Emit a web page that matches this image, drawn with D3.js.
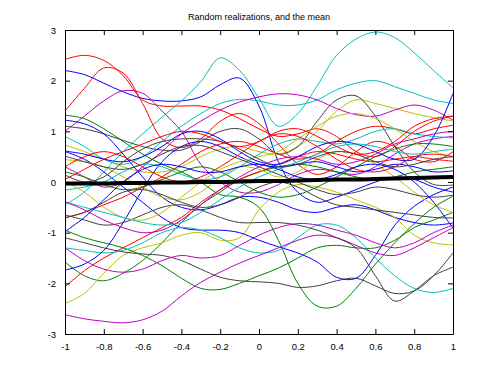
<!DOCTYPE html>
<meta charset="utf-8">
<script src="https://d3js.org/d3.v7.min.js"></script>
<style>
  body { margin: 0; background: #fff; }
  text { font-family: "Liberation Sans", Arial, sans-serif; }
</style>
<div id="vis"></div>
<script>

// x sample points shared by every realization
var xGrid = [-1, -0.9, -0.8, -0.7, -0.6, -0.5, -0.4, -0.3, -0.2, -0.1, 0,
             0.1, 0.2, 0.3, 0.4, 0.5, 0.6, 0.7, 0.8, 0.9, 1];

var xTicks = [-1, -0.8, -0.6, -0.4, -0.2, 0, 0.2, 0.4, 0.6, 0.8, 1];
var yTicks = [-3, -2, -1, 0, 1, 2, 3];

// realizations
var cyanBig   = [-0.45,-0.2,0.2,0.6,0.95,1.28,1.6,1.98,2.45,2.2,1.65,1.1,1.35,1.9,2.5,2.82,2.96,2.85,2.55,2.2,1.86];
var blueHigh  = [2.2,2.12,1.95,1.78,1.65,1.6,1.6,1.68,1.92,2.05,1.5,0.4,-0.2,-0.4,-0.3,-0.15,0.0,0.1,0.05,-0.1,-0.2];
var redTop    = [2.42,2.5,2.4,2.1,1.62,1.5,1.5,1.5,1.42,1.25,1.05,0.9,0.95,1.05,0.9,0.6,0.5,0.7,1.0,1.2,1.3];
var redPeak   = [1.4,1.85,2.25,2.15,1.55,0.85,0.68,0.85,1.2,1.35,1.15,0.75,0.35,0.15,0.3,0.6,0.8,0.7,0.45,0.4,0.6];
var magHump   = [1.0,1.3,1.6,1.8,1.75,1.4,1.0,0.35,0.0,-0.2,-0.2,-0.05,0.15,0.25,0.2,0.15,0.3,0.55,0.75,0.85,0.9];
var magMid    = [0.3,0.1,-0.1,0.0,0.3,0.6,0.95,1.2,1.42,1.58,1.68,1.74,1.72,1.62,1.45,1.33,1.3,1.42,1.52,1.42,1.22];
var cyanMid   = [0.9,0.7,0.45,0.35,0.5,0.8,1.1,1.35,1.55,1.63,1.6,1.52,1.52,1.62,1.82,1.95,2.0,1.88,1.75,1.62,1.55];
var grayPeak  = [1.1,1.05,0.95,0.82,0.7,0.63,0.63,0.8,1.0,1.05,0.85,0.55,0.7,1.2,1.62,1.7,1.3,0.7,0.2,-0.05,-0.06];
var yelRise   = [0.73,0.6,0.45,0.3,0.2,0.2,0.3,0.5,0.65,0.7,0.6,0.55,0.7,1.0,1.4,1.62,1.55,1.45,1.35,1.27,1.2];
var yelLow    = [-2.4,-2.2,-1.8,-1.45,-1.3,-1.2,-1.05,-1.0,-1.15,-1.1,-0.55,-0.2,-0.05,-0.1,-0.2,-0.35,-0.5,-0.7,-1.05,-1.2,-1.24];
var magBottom = [-2.62,-2.7,-2.75,-2.78,-2.72,-2.55,-2.25,-1.98,-1.78,-1.6,-1.45,-1.3,-1.15,-1.05,-1.1,-1.25,-1.4,-1.45,-1.3,-1.1,-0.9];
var grayLow   = [-1.1,-1.2,-1.3,-1.38,-1.42,-1.45,-1.55,-1.72,-1.88,-1.95,-1.97,-2.0,-2.08,-2.05,-1.95,-1.9,-2.05,-2.2,-2.15,-1.85,-1.4];
var grayDip   = [-0.65,-0.75,-0.85,-0.8,-0.65,-0.5,-0.45,-0.55,-0.7,-0.8,-0.8,-0.8,-0.85,-0.95,-1.1,-1.3,-1.85,-2.35,-2.15,-1.85,-1.68];
var greenDip  = [1.32,1.25,1.05,0.8,0.55,0.35,0.2,0.0,-0.25,-0.3,-0.5,-1.15,-2.0,-2.45,-2.45,-2.1,-1.62,-1.2,-0.82,-0.5,-0.28];
var cyanLow   = [-1.3,-1.35,-1.4,-1.35,-1.2,-1.0,-0.9,-0.95,-1.1,-1.3,-1.4,-1.35,-1.1,-0.85,-0.85,-1.1,-1.5,-1.85,-2.1,-2.18,-2.1];
var blueDip   = [0.6,0.45,0.2,-0.1,-0.4,-0.7,-0.9,-0.95,-0.95,-1.0,-1.15,-1.28,-1.4,-1.58,-1.88,-1.9,-1.45,-0.85,-0.48,-0.25,-0.1];
var blueSteep = [-1.74,-1.62,-1.35,-0.8,-0.15,0.4,0.7,0.8,0.7,0.5,0.35,0.3,0.35,0.4,0.3,0.2,0.25,0.35,0.3,0.2,0.22];
var redLow    = [-2.07,-1.75,-1.5,-1.3,-1.1,-0.9,-0.7,-0.4,-0.15,0.05,0.2,0.35,0.5,0.6,0.55,0.45,0.4,0.45,0.5,0.45,0.41];
var greenLow  = [-1.58,-1.85,-1.95,-1.8,-1.55,-1.2,-0.8,-0.45,-0.2,0.05,0.2,0.3,0.35,0.3,0.2,0.1,0.05,0.1,0.2,0.25,0.3];
var greenV    = [-0.95,-1.1,-1.2,-1.3,-1.45,-1.65,-1.9,-2.1,-2.12,-2.0,-1.85,-1.7,-1.5,-1.3,-1.25,-1.3,-1.3,-1.15,-0.9,-0.75,-0.6];
var magLow    = [-1.3,-1.55,-1.72,-1.78,-1.72,-1.55,-1.45,-1.5,-1.45,-1.25,-1.05,-0.9,-0.82,-0.85,-0.95,-1.05,-1.2,-1.3,-1.2,-1.0,-0.85];
var blueFall  = [1.22,1.15,0.95,0.55,0.1,-0.3,-0.5,-0.55,-0.45,-0.3,-0.3,-0.4,-0.55,-0.6,-0.5,-0.45,-0.55,-0.7,-0.8,-0.85,-0.81];
var blueMid   = [0.61,0.55,0.45,0.4,0.5,0.7,0.95,1.0,0.85,0.6,0.4,0.35,0.5,0.7,0.8,0.75,0.6,0.45,0.45,0.9,1.75];
var grayMid   = [0.51,0.4,0.3,0.25,0.35,0.55,0.7,0.72,0.6,0.45,0.3,0.15,0.0,-0.15,-0.25,-0.2,-0.1,-0.15,-0.25,-0.3,-0.26];
var yelWave   = [0.44,0.4,0.3,0.1,-0.1,-0.3,-0.35,-0.2,0.1,0.3,0.25,0.1,0.2,0.45,0.6,0.55,0.35,0.1,-0.2,-0.45,-0.6];
var cyanWave  = [-0.16,-0.1,0.0,0.2,0.35,0.3,0.15,0.05,0.1,0.3,0.55,0.75,0.85,0.8,0.75,0.85,1.0,1.05,0.95,0.9,0.87];
var cyanRise  = [-0.39,-0.5,-0.6,-0.7,-0.8,-0.85,-0.8,-0.6,-0.35,-0.1,0.1,0.25,0.4,0.55,0.7,0.75,0.7,0.6,0.55,0.6,0.65];
var magRise   = [-0.39,-0.55,-0.75,-0.9,-1.0,-0.95,-0.75,-0.45,-0.15,0.1,0.3,0.45,0.5,0.45,0.35,0.4,0.55,0.75,0.85,0.95,1.0];
var redRise   = [-0.71,-0.6,-0.45,-0.3,-0.1,0.1,0.35,0.6,0.75,0.8,0.7,0.55,0.45,0.55,0.8,1.0,1.1,1.05,0.95,1.05,1.12];
var blueWave  = [-0.98,-0.7,-0.35,0.0,0.25,0.35,0.3,0.2,0.2,0.3,0.35,0.25,0.1,0.05,0.15,0.3,0.35,0.25,0.0,-0.4,-0.91];
var grayRise  = [0.14,0.0,0.1,0.4,0.65,0.8,0.85,0.85,0.8,0.65,0.45,0.3,0.35,0.5,0.6,0.55,0.4,0.3,0.35,0.45,0.5];
var greenWave = [0.2,0.1,-0.05,-0.15,-0.1,0.05,0.2,0.3,0.2,0.0,-0.2,-0.3,-0.25,-0.1,0.1,0.3,0.5,0.65,0.75,0.75,0.7];
var redWave   = [0.3,0.5,0.6,0.5,0.3,0.1,0.0,0.1,0.3,0.55,0.8,0.95,0.9,0.7,0.45,0.25,0.2,0.3,0.5,0.55,0.5];
var yelMid    = [0.0,-0.2,-0.5,-0.7,-0.75,-0.6,-0.3,0.0,0.25,0.4,0.5,0.6,0.85,1.1,1.3,1.35,1.25,1.05,0.8,0.6,0.5];
var grayFlat  = [-0.7,-0.6,-0.4,-0.2,-0.15,-0.25,-0.4,-0.5,-0.45,-0.3,-0.1,0.0,-0.1,-0.3,-0.45,-0.5,-0.55,-0.6,-0.65,-0.7,-0.71];
var redFlat   = [0.05,0.25,0.45,0.6,0.75,0.9,1.0,0.95,0.8,0.7,0.8,1.0,1.05,0.9,0.7,0.55,0.6,0.8,1.1,1.25,1.3];

// the mean of the process
var meanLine = [-0.03,-0.03,-0.03,-0.02,-0.02,-0.01,-0.01,0.0,0.0,0.01,0.02,0.02,0.03,0.04,0.05,0.05,0.06,0.07,0.08,0.09,0.1];

// MATLAB line colours
var colors = {b: "#0000ff", g: "#008000", r: "#ff0000", c: "#00bfbf",
              m: "#bf00bf", y: "#bfbf00", k: "#404040"};

var curves = [
  [blueHigh, "b"], [greenDip, "g"], [redTop, "r"], [cyanBig, "c"], [magHump, "m"], [yelRise, "y"], [grayPeak, "k"],
  [blueFall, "b"], [greenLow, "g"], [redPeak, "r"], [cyanMid, "c"], [magMid, "m"], [yelLow, "y"], [grayLow, "k"],
  [blueDip, "b"], [greenV, "g"], [redLow, "r"], [cyanLow, "c"], [magBottom, "m"], [yelWave, "y"], [grayDip, "k"],
  [blueSteep, "b"], [greenWave, "g"], [redRise, "r"], [cyanWave, "c"], [magLow, "m"], [yelMid, "y"], [grayMid, "k"],
  [blueMid, "b"], [redWave, "r"], [cyanRise, "c"], [magRise, "m"], [grayRise, "k"], [blueWave, "b"], [redFlat, "r"],
  [grayFlat, "k"]
];

var margin = {top: 30, right: 47, bottom: 41, left: 65},
    width = 500 - margin.left - margin.right,
    height = 375 - margin.top - margin.bottom;

var svg = d3.select("#vis")
  .append("svg")
    .attr("width", 500)
    .attr("height", 375)
  .append("g")
    .attr("transform", "translate(" + margin.left + "," + margin.top + ")");

var x = d3.scaleLinear().domain([-1, 1]).range([0, width]);
var y = d3.scaleLinear().domain([-3, 3]).range([height, 0]);

svg.append("clipPath").attr("id", "clip")
  .append("rect").attr("width", width).attr("height", height);

var line = d3.line()
  .x(function(d, i) { return x(xGrid[i]); })
  .y(function(d) { return y(d); })
  .curve(d3.curveCatmullRom.alpha(0.5));

var plot = svg.append("g").attr("clip-path", "url(#clip)");

plot.selectAll(".real")
  .data(curves)
  .enter()
  .append("path")
    .attr("class", "real")
    .attr("d", function(d) { return line(d[0]); })
    .attr("fill", "none")
    .attr("stroke", function(d) { return colors[d[1]]; })
    .attr("stroke-width", 1);

plot.append("path")
  .attr("d", line(meanLine))
  .attr("fill", "none")
  .attr("stroke", "#000")
  .attr("stroke-width", 4);

// axes, MATLAB style: ticks inside on all four sides
var fmt = function(d) { return String(+d.toFixed(1)); };

svg.append("g")
  .attr("transform", "translate(0," + height + ")")
  .call(d3.axisBottom(x).tickValues(xTicks).tickFormat(fmt).tickSizeInner(-5).tickSizeOuter(0).tickPadding(9));
svg.append("g")
  .call(d3.axisTop(x).tickValues(xTicks).tickFormat("").tickSizeInner(-5).tickSizeOuter(0));
svg.append("g")
  .call(d3.axisLeft(y).tickValues(yTicks).tickFormat(fmt).tickSizeInner(-5).tickSizeOuter(0).tickPadding(9));
svg.append("g")
  .attr("transform", "translate(" + width + ",0)")
  .call(d3.axisRight(y).tickValues(yTicks).tickFormat("").tickSizeInner(-5).tickSizeOuter(0));

svg.selectAll(".domain").attr("stroke", "#000");
svg.selectAll(".tick line").attr("stroke", "#000");
svg.selectAll(".tick text")
  .attr("fill", "#000")
  .style("font-size", "9.5px")
  .style("font-family", "'Liberation Sans', Arial, sans-serif");

// title
svg.append("text")
  .attr("x", width / 2)
  .attr("y", -10)
  .attr("text-anchor", "middle")
  .style("font-size", "9px")
  .text("Random realizations, and the mean");

</script>
